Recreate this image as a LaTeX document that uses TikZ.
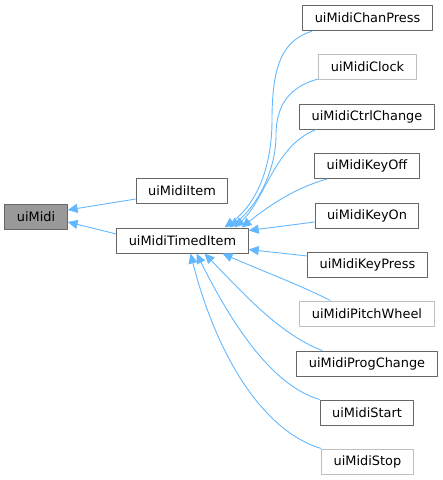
\documentclass[tikz,border=0pt]{standalone}
\usepackage{fontspec}
\setmainfont{DejaVu Sans}
\usetikzlibrary{arrows.meta}
\definecolor{edgeblue}{HTML}{63B8FF}
\definecolor{darkframe}{HTML}{666666}
\definecolor{lightframe}{HTML}{BFBFBF}
\definecolor{basefill}{HTML}{999999}
\tikzset{
  cls/.style={draw=darkframe,fill=white,line width=1pt,inner xsep=12pt,inner ysep=0pt,minimum height=25pt,font=\fontsize{12.9}{15}\selectfont},
  clslight/.style={cls,draw=lightframe},
  clsbase/.style={cls,fill=basefill},
  inh/.style={<-,>={Triangle[length=10pt,width=9pt]},draw=edgeblue,line width=0.9pt}
}
\begin{document}
\begin{tikzpicture}[x=1pt,y=-1pt,line join=round]
			\useasboundingbox (0,0) rectangle (443,480);
			\node[clsbase] (midi) at (36,216.5) {uiMidi};
			\node[cls] (item) at (182,191) {uiMidiItem};
			\node[cls] (timed) at (182.5,240.5) {uiMidiTimedItem};
			\node[cls] (chanpress) at (367.5,18) {uiMidiChanPress};
			\node[clslight] (clock) at (367.5,67) {uiMidiClock};
			\node[cls] (ctrlchange) at (367,116.5) {uiMidiCtrlChange};
			\node[cls] (keyoff) at (367,166) {uiMidiKeyOff};
			\node[cls] (keyon) at (367,215.5) {uiMidiKeyOn};
			\node[cls] (keypress) at (367.5,264.5) {uiMidiKeyPress};
			\node[clslight] (pitchwheel) at (367,313.5) {uiMidiPitchWheel};
			\node[cls] (progchange) at (367,363.5) {uiMidiProgChange};
			\node[cls] (start) at (367,412.5) {uiMidiStart};
			\node[clslight] (stop) at (367.5,461.5) {uiMidiStop};
			\draw[inh] ([yshift=6.5]midi.east) -- ([yshift=-8]item.west);
			\draw[inh] ([yshift=-5.5]midi.east) -- ([yshift=6.5]timed.west);
			\draw[inh] ([xshift=42]timed.north) .. controls (255,205) and (272,170) .. (272,120) .. controls (272,60) and (285,40) .. ([xshift=10]chanpress.south west);
			\draw[inh] ([xshift=47]timed.north) .. controls (258,205) and (276,170) .. (276,135) .. controls (276,100) and (295,85) .. ([yshift=1]clock.south west);
			\draw[inh] ([xshift=52]timed.north) .. controls (265,200) and (275,145) .. ([xshift=17]ctrlchange.south west);
			\draw[inh] ([xshift=59]timed.north) .. controls (270,205) and (295,188) .. ([xshift=13]keyoff.south west);
			\draw[inh] ([yshift=10]timed.east) -- ([yshift=-6.5]keyon.west);
			\draw[inh] ([yshift=-9]timed.east) -- ([yshift=8.5]keypress.west);
			\draw[inh] ([xshift=40]timed.south) .. controls (260,270) and (300,285) .. ([xshift=31]pitchwheel.north west);
			\draw[inh] ([xshift=22]timed.south) .. controls (240,290) and (280,335) .. ([xshift=26]progchange.north west);
			\draw[inh] ([xshift=14]timed.south) .. controls (230,320) and (270,385) .. (start.north west);
			\draw[inh] ([xshift=8]timed.south) .. controls (215,350) and (260,430) .. (stop.north west);
	\end{tikzpicture}
\end{document}
